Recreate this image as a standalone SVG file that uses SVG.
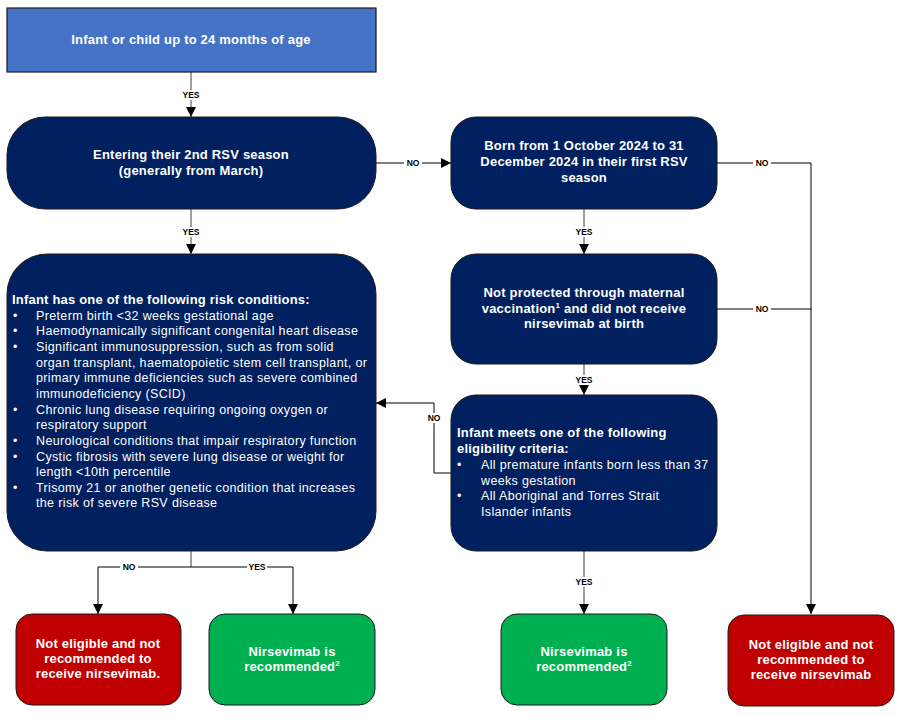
<svg xmlns="http://www.w3.org/2000/svg" width="911" height="717" viewBox="0 0 911 717">
<defs>
<marker id="ah" viewBox="0 0 10 10" refX="10" refY="5" markerWidth="10" markerHeight="10" markerUnits="userSpaceOnUse" orient="auto">
<path d="M0,0 L10,5 L0,10 z" fill="#000"/>
</marker>
<style>
.navy{fill:#002060;stroke:#1a1a1a;stroke-width:1}
.red{fill:#C00000;stroke:#1a1a1a;stroke-width:1}
.green{fill:#00B050;stroke:#1a1a1a;stroke-width:1}
.blue{fill:#4472C4;stroke:#1a1a1a;stroke-width:1.2}
.t{font-family:"Liberation Sans",Arial,sans-serif;fill:#fff;font-size:13px;font-weight:bold;text-anchor:middle;letter-spacing:0.2px}
.tl{font-family:"Liberation Sans",Arial,sans-serif;fill:#fff;font-size:12.5px;letter-spacing:0.35px}
.tb{font-family:"Liberation Sans",Arial,sans-serif;fill:#fff;font-size:13px;font-weight:bold;letter-spacing:0.2px}
.c{fill:none;stroke:#000;stroke-width:1}
.cg{fill:none;stroke:#7f7f7f;stroke-width:1.5}
.lbl{font-family:"Liberation Sans",Arial,sans-serif;fill:#000;font-size:8.5px;font-weight:bold;text-anchor:middle}
.lb{fill:#fff}
</style>
</defs>
<rect width="911" height="717" fill="#fff"/>

<g id="connectors">
<line class="cg" x1="191" y1="72" x2="191" y2="117" marker-end="url(#ah)"/>
<line class="cg" x1="191" y1="209" x2="191" y2="254" marker-end="url(#ah)"/>
<line class="c" x1="376" y1="163" x2="451" y2="163" marker-end="url(#ah)"/>
<polyline class="c" points="717,163 811,163 811,614" marker-end="url(#ah)"/>
<line class="c" x1="717" y1="309" x2="811" y2="309"/>
<line class="cg" x1="584" y1="209" x2="584" y2="254" marker-end="url(#ah)"/>
<line class="cg" x1="584" y1="364" x2="584" y2="395" marker-end="url(#ah)"/>
<polyline class="c" points="451,473 434,473 434,403 376,403" marker-end="url(#ah)"/>
<line class="cg" x1="191" y1="551" x2="191" y2="567"/>
<polyline class="c" points="191,567 98,567 98,614" marker-end="url(#ah)"/>
<polyline class="c" points="191,567 293,567 293,614" marker-end="url(#ah)"/>
<line class="cg" x1="584" y1="551" x2="584" y2="614" marker-end="url(#ah)"/>
<rect class="lb" x="181" y="90" width="20" height="10"/>
<text class="lbl" x="191" y="98">YES</text>
<rect class="lb" x="181" y="227" width="20" height="10"/>
<text class="lbl" x="191" y="235">YES</text>
<rect class="lb" x="404" y="158" width="18" height="10"/>
<text class="lbl" x="413" y="166">NO</text>
<rect class="lb" x="753" y="158" width="18" height="10"/>
<text class="lbl" x="762" y="166">NO</text>
<rect class="lb" x="753" y="304" width="18" height="10"/>
<text class="lbl" x="762" y="312">NO</text>
<rect class="lb" x="574" y="227" width="20" height="10"/>
<text class="lbl" x="584" y="235">YES</text>
<rect class="lb" x="574" y="375" width="20" height="10"/>
<text class="lbl" x="584" y="383">YES</text>
<rect class="lb" x="425" y="413" width="18" height="10"/>
<text class="lbl" x="434" y="421">NO</text>
<rect class="lb" x="120" y="562" width="18" height="10"/>
<text class="lbl" x="129" y="570">NO</text>
<rect class="lb" x="247" y="562" width="20" height="10"/>
<text class="lbl" x="257" y="570">YES</text>
<rect class="lb" x="574" y="577" width="20" height="10"/>
<text class="lbl" x="584" y="585">YES</text>
</g>

<g id="start">
<rect class="blue" x="7" y="8" width="369" height="64"/>
<text class="t" x="191" y="44">Infant or child up to 24 months of age</text>
</g>

<g id="second-season">
<rect class="navy" x="7" y="117" width="369" height="92" rx="38"/>
<text class="t" x="191" y="159">Entering their 2nd RSV season</text>
<text class="t" x="191" y="175">(generally from March)</text>
</g>

<g id="born-oct-dec">
<rect class="navy" x="451" y="117" width="266" height="92" rx="25"/>
<text class="t" x="584" y="150">Born from 1 October 2024 to 31</text>
<text class="t" x="584" y="166">December 2024 in their first RSV</text>
<text class="t" x="584" y="182">season</text>
</g>

<g id="not-protected">
<rect class="navy" x="451" y="254" width="266" height="110" rx="25"/>
<text class="t" x="584" y="297">Not protected through maternal</text>
<text class="t" x="584" y="313">vaccination<tspan font-size="8" dy="-5">1</tspan><tspan dy="5"> and did not receive</tspan></text>
<text class="t" x="584" y="328">nirsevimab at birth</text>
</g>

<g id="risk-conditions">
<rect class="navy" x="7" y="254" width="369" height="297" rx="40"/>
<text class="tb" x="12" y="304">Infant has one of the following risk conditions:</text>
<g class="tl">
<text x="13" y="320">•</text><text x="36" y="320">Preterm birth &lt;32 weeks gestational age</text>
<text x="13" y="335">•</text><text x="36" y="335">Haemodynamically significant congenital heart disease</text>
<text x="13" y="351">•</text><text x="36" y="351">Significant immunosuppression, such as from solid</text>
<text x="36" y="367">organ transplant, haematopoietic stem cell transplant, or</text>
<text x="36" y="382">primary immune deficiencies such as severe combined</text>
<text x="36" y="398">immunodeficiency (SCID)</text>
<text x="13" y="414">•</text><text x="36" y="414">Chronic lung disease requiring ongoing oxygen or</text>
<text x="36" y="429">respiratory support</text>
<text x="13" y="445">•</text><text x="36" y="445">Neurological conditions that impair respiratory function</text>
<text x="13" y="461">•</text><text x="36" y="461">Cystic fibrosis with severe lung disease or weight for</text>
<text x="36" y="476">length &lt;10th percentile</text>
<text x="13" y="492">•</text><text x="36" y="492">Trisomy 21 or another genetic condition that increases</text>
<text x="36" y="507">the risk of severe RSV disease</text>
</g>
</g>

<g id="eligibility">
<rect class="navy" x="451" y="395" width="266" height="156" rx="25"/>
<text class="tb" x="457" y="437">Infant meets one of the following</text>
<text class="tb" x="457" y="453">eligibility criteria:</text>
<g class="tl">
<text x="457" y="469">•</text><text x="481" y="469">All premature infants born less than 37</text>
<text x="481" y="485">weeks gestation</text>
<text x="457" y="500">•</text><text x="481" y="500">All Aboriginal and Torres Strait</text>
<text x="481" y="516">Islander infants</text>
</g>
</g>

<g id="not-eligible-left">
<rect class="red" x="16" y="614" width="165" height="91" rx="16"/>
<text class="t" x="98" y="648">Not eligible and not</text>
<text class="t" x="98" y="663">recommended to</text>
<text class="t" x="98" y="678">receive nirsevimab.</text>
</g>

<g id="recommended-left">
<rect class="green" x="209" y="614" width="166" height="91" rx="16"/>
<text class="t" x="292" y="656">Nirsevimab is</text>
<text class="t" x="292" y="671">recommended<tspan font-size="8" dy="-5">2</tspan></text>
</g>

<g id="recommended-right">
<rect class="green" x="501" y="614" width="166" height="91" rx="16"/>
<text class="t" x="584" y="656">Nirsevimab is</text>
<text class="t" x="584" y="671">recommended<tspan font-size="8" dy="-5">2</tspan></text>
</g>

<g id="not-eligible-right">
<rect class="red" x="728" y="615" width="166" height="91" rx="16"/>
<text class="t" x="811" y="649">Not eligible and not</text>
<text class="t" x="811" y="664">recommended to</text>
<text class="t" x="811" y="679">receive nirsevimab</text>
</g>
</svg>
